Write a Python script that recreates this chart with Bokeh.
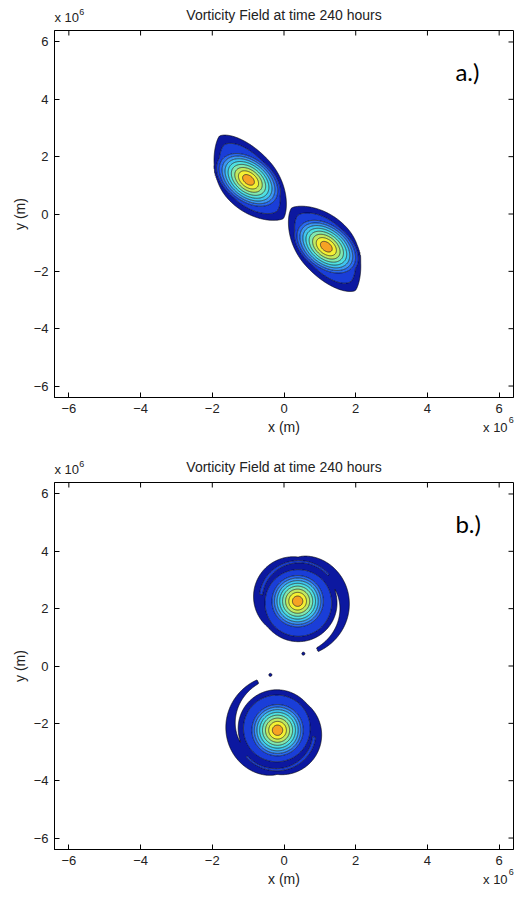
import numpy as np
from bokeh.plotting import figure
from bokeh.models import Label, Range1d, FixedTicker
from bokeh.layouts import column
from bokeh.core.properties import value
from bokeh.embed import file_html
from bokeh.resources import INLINE

# ---------------- texts / axes ----------------
TITLE = "Vorticity Field at time 240 hours"
X_LABEL = "x (m)"
Y_LABEL = "y (m)"
TICKS = [-6, -4, -2, 0, 2, 4, 6]
AX_LIM = 6.4
PANEL_TAGS = ["a.)", "b.)"]
SCALE_TXT = "x 10"
SCALE_EXP = "6"

# ---------------- contour levels and band colours ----------------
LEVELS = [0.02, 0.1, 0.2, 0.3, 0.4, 0.5, 0.6, 0.7, 0.8, 0.9, 1.01]
BAND_COLORS = ["#0c18a0", "#1a3ed8", "#2a6af0", "#3c96f4", "#40c4f0",
               "#50e0e0", "#80e8b0", "#c0e860", "#f4f034", "#f6a224"]

# ---------------- panel a: two strained (elliptical) vortices ----------------
A_CX = [-0.99, 1.18]          # centre x (1e6 m)
A_CY = [1.19, -1.14]          # centre y (1e6 m)
A_CORE_TILT = [-38.0, -38.0]  # orientation of the inner core (deg)
A_CORE_A = [1.10, 1.10]       # core semi-major
A_CORE_B = [0.70, 0.70]       # core semi-minor
A_TILT = [-48.0, -48.0]       # orientation of the outer lens (deg)
A_FAR_SIDE = [-1.0, 1.0]      # which end of the lens is the trailing (bent) filament
A_BEND = [0.10, 0.10]         # curvature of the trailing filament
A_LENS_A = [1.45, 1.45]       # outer lens semi-major (weakest band)
A_LENS_B = [0.78, 0.78]
A_LENS2_A = [1.18, 1.18]      # second band lens
A_LENS2_B = [0.64, 0.64]

# ---------------- panel b: two circular vortices with spiral arms ----------------
B_CX = [0.38, -0.18]
B_CY = [2.26, -2.24]
B_ROT = [0.0, 180.0]          # orientation of the spiral pattern (deg)
B_CORE_R = [0.85, 0.85]
B_DISC_R = [1.11, 1.11]       # outer (weakest) vorticity disc
B_DISC_DX = [-0.12, -0.12]
B_DISC_DY = [0.13, 0.13]
B_DISC2_R = [0.93, 0.93]      # second-band disc
B_DISC2_DX = [0.02, 0.02]
B_DISC2_DY = [-0.05, -0.05]
# spiral arms (vortex frame): angle start/end (deg), radius start/end, width start/end, amplitude
ARM_T0 = [90.0, 170.0]
ARM_T1 = [-68.0, 40.0]
ARM_R0 = [0.97, 1.03]
ARM_R1 = [1.46, 1.13]
ARM_W0 = [0.26, 0.07]
ARM_W1 = [0.06, 0.035]
ARM_AMP = [0.05, 0.15]
# small detached filament fragments
DOT_X = [0.54, -0.38]
DOT_Y = [0.43, -0.31]
DOT_R = [0.045, 0.045]
DOT_AMP = [0.05, 0.05]

PIX_ASPECT = 367 / 459        # y pixels per unit / x pixels per unit
FONT = "Liberation Sans"
TXT_COLOR = "#222222"

xs = np.linspace(-AX_LIM, AX_LIM, 641)
ys = np.linspace(-AX_LIM, AX_LIM, 641)
XX, YY = np.meshgrid(xs, ys)
YS = YY * PIX_ASPECT


def local(cx, cy, ang):
    dx = XX - cx
    dy = YS - cy * PIX_ASPECT
    a = np.deg2rad(ang)
    u = dx * np.cos(a) + dy * np.sin(a)
    v = -dx * np.sin(a) + dy * np.cos(a)
    return u, v


def field_a():
    Z = np.full_like(XX, -1.0)
    for i in range(len(A_CX)):
        uc, vc = local(A_CX[i], A_CY[i], A_CORE_TILT[i])
        rho = np.sqrt((uc / A_CORE_A[i]) ** 2 + (vc / A_CORE_B[i]) ** 2)
        core = 1 - rho ** 1.3
        u, v = local(A_CX[i], A_CY[i], A_TILT[i])
        far = (u * A_FAR_SIDE[i]) > 0
        v = v + np.where(far, A_BEND[i] * u * np.abs(u), 0.0)
        s1 = (np.abs(u) / A_LENS_A[i]) ** 2 + (np.abs(v) / A_LENS_B[i]) ** 1.4
        skirt1 = LEVELS[0] + 0.06 * (1 - s1)
        s2 = (np.abs(u) / A_LENS2_A[i]) ** 2 + (np.abs(v) / A_LENS2_B[i]) ** 1.6
        skirt2 = np.minimum(0.16, LEVELS[1] + 0.5 * (1 - s2))
        Z = np.maximum(Z, np.maximum(core, np.maximum(skirt1, skirt2)))
    return Z


def arm(r, th, j):
    t0, t1 = ARM_T0[j], ARM_T1[j]
    d = np.mod(t0 - th, 360.0)
    f = d / (t0 - t1)
    rf = ARM_R0[j] + (ARM_R1[j] - ARM_R0[j]) * np.clip(f, 0, 1) ** 0.7
    w = ARM_W0[j] + (ARM_W1[j] - ARM_W0[j]) * f
    val = ARM_AMP[j] * np.exp(-((r - rf) / w) ** 2)
    return np.where(f <= 1.0, val, -1.0)


def field_b():
    Z = np.full_like(XX, -1.0)
    for i in range(len(B_CX)):
        u, v = local(B_CX[i], B_CY[i], B_ROT[i])
        r = np.hypot(u, v)
        th = np.degrees(np.arctan2(v, u))
        core = 1 - (r / B_CORE_R[i]) ** 1.3
        rd = np.hypot(u - B_DISC_DX[i], v - B_DISC_DY[i])
        disc = LEVELS[0] + 0.06 * (1 - rd / B_DISC_R[i])
        rd2 = np.hypot(u - B_DISC2_DX[i], v - B_DISC2_DY[i])
        disc2 = np.minimum(0.16, LEVELS[1] + 0.5 * (1 - rd2 / B_DISC2_R[i]))
        z = np.maximum(np.maximum(core, disc), disc2)
        for j in range(len(ARM_T0)):
            z = np.maximum(z, arm(r, th, j))
        Z = np.maximum(Z, z)
    for k in range(len(DOT_X)):
        d2 = (XX - DOT_X[k]) ** 2 + ((YY - DOT_Y[k]) * PIX_ASPECT) ** 2
        Z = np.maximum(Z, DOT_AMP[k] * np.exp(-d2 / DOT_R[k] ** 2))
    return Z


def style_axis(ax):
    ax.ticker = FixedTicker(ticks=TICKS)
    ax.minor_tick_line_color = None
    ax.major_tick_in = 5
    ax.major_tick_out = 0
    ax.axis_line_color = "black"
    ax.major_tick_line_color = "black"
    ax.major_label_text_font = FONT
    ax.major_label_text_color = TXT_COLOR
    ax.major_label_text_font_size = "13px"
    ax.major_label_standoff = 6
    ax.axis_label_text_font = FONT
    ax.axis_label_text_font_size = "14px"
    ax.axis_label_text_font_style = "normal"
    ax.axis_label_text_color = TXT_COLOR
    ax.axis_label_standoff = 3


def outside_text(p, x, y, text, size, align="left"):
    # drawn at the overlay level so that it may sit outside the plot frame
    p.text(x=[x], y=[y], text=[text], text_align=align, text_baseline="alphabetic",
           text_font=value(FONT), text_font_size=value(size),
           text_color=TXT_COLOR, level="overlay")


def make_panel(Z, tag, top_border, bottom_border):
    p = figure(frame_width=459, frame_height=367,
               x_range=Range1d(-AX_LIM, AX_LIM), y_range=Range1d(-AX_LIM, AX_LIM),
               output_backend="svg", toolbar_location=None,
               min_border_left=54, min_border_right=10, min_border_top=top_border,
               min_border_bottom=bottom_border,
               x_axis_label=X_LABEL, y_axis_label=Y_LABEL)
    p.xgrid.visible = False
    p.ygrid.visible = False
    p.outline_line_color = "black"
    p.background_fill_color = "white"
    p.border_fill_color = "white"
    style_axis(p.xaxis[0])
    style_axis(p.yaxis[0])

    p.contour(xs, ys, Z, levels=LEVELS, fill_color=BAND_COLORS,
              line_color="black", line_width=0.6)

    # inward ticks on the top and right frame edges (outer half clipped by the frame)
    n = len(TICKS)
    p.scatter(x=TICKS, y=[AX_LIM] * n, marker="dash", size=10, angle=np.pi / 2,
              line_color="black", line_width=1)
    p.scatter(x=[AX_LIM] * n, y=TICKS, marker="dash", size=10, angle=0,
              line_color="black", line_width=1)

    outside_text(p, 0, 6.95, TITLE, "14px", "center")
    outside_text(p, -6.4, 6.85, SCALE_TXT, "13px")
    outside_text(p, -5.71, 7.06, SCALE_EXP, "9px")
    outside_text(p, 5.55, -7.45, SCALE_TXT, "13px")
    outside_text(p, 6.27, -7.17, SCALE_EXP, "9px")

    p.add_layout(Label(x=4.78, y=4.97, text=tag, text_align="left",
                       text_baseline="alphabetic", text_font="Lato",
                       text_font_size="24px", text_color="black"))
    return p


pa = make_panel(field_a(), PANEL_TAGS[0], 30, 63)
pb = make_panel(field_b(), PANEL_TAGS[1], 22, 42)
layout = column(pa, pb)

open("out.html", "w").write(file_html(layout, INLINE))
